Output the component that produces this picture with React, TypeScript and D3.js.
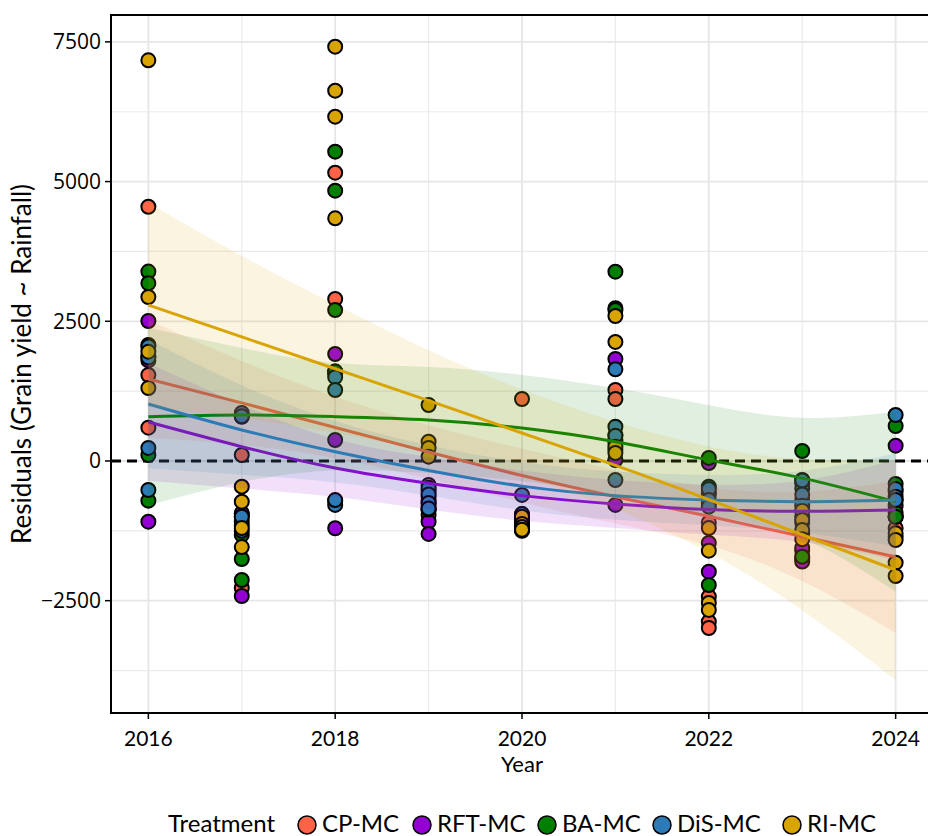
import React from "react";
import * as d3 from "d3";

const years = [2016, 2017, 2018, 2019, 2020, 2021, 2022, 2023, 2024];
const treatments = ["CP-MC", "RFT-MC", "BA-MC", "DiS-MC", "RI-MC"];
const treatmentColors = ["#FF6347", "#9400D3", "#007F00", "#2C7BB6", "#D9A300"];

// residual points per year (one row per year, 2016..2024)
const cpPoints = [
  [4550, 2076, 1539, 596], [107, -950, -1150, -2273], [5160, 2899, 1600, -710],
  [-430, -700, -880, -966], [1109, -1050, -1150, -1230], [1270, 1109, 376, 200],
  [-1100, -2428, -2875, -2989], [-700, -1300, -1600, -1750], [-700, -1000, -1204, -1350],
];
const rftPoints = [
  [2505, 1866, 1800, -1086], [790, -934, -1000, -2416], [1915, 1560, 376, -1204],
  [-519, -640, -1086, -1306], [-950, -1000, -1100, -1200], [1825, 465, 18, -787],
  [-36, -600, -1467, -1981], [-400, -1000, -1557, -1800], [274, -550, -800, -1000],
];
const baPoints = [
  [3390, 3180, 107, -710], [-1086, -1324, -1754, -2130], [5535, 4837, 2702, 1600],
  [-818, -560, -750, -870], [-1000, -1150, -1200, -1250], [3388, 2733, 2700, 330],
  [54, -573, -750, -2219], [179, -340, -489, -1713], [626, -411, -925, -1000],
];
const disPoints = [
  [2050, 1850, 233, -519], [860, 800, -1000, -1250], [1500, 1270, -787, -700],
  [-480, -600, -750, -850], [-608, -950, -1050, -1200], [1641, 614, 450, -340],
  [-459, -500, -698, -818], [-350, -600, -800, -1100], [823, -500, -640, -700],
];
const riPoints = [
  [7170, 2935, 1956, 1306], [-459, -728, -1200, -1540], [7414, 6627, 6161, 4343],
  [1002, 345, 233, 77], [-1000, -1127, -1180, -1230], [2595, 2130, 256, 143],
  [-1200, -1605, -2541, -2666], [-890, -1056, -1235, -1400], [-1294, -1414, -1820, -2058],
];

// smoothed fits and confidence half-widths, 2016..2024
const cpFit = [1467, 1040, 600, 160, -260, -640, -990, -1350, -1718];
const cpHalf = [1050, 750, 550, 480, 480, 480, 520, 800, 1360];
const rftFit = [698, 256, -125, -400, -620, -770, -870, -900, -877];
const rftHalf = [1050, 750, 520, 470, 450, 430, 450, 550, 900];
const baFit = [793, 823, 793, 733, 590, 345, 18, -307, -728];
const baHalf = [1590, 1200, 960, 950, 950, 960, 980, 1080, 1610];
const disFit = [1020, 555, 166, -170, -450, -620, -698, -728, -698];
const disHalf = [1150, 800, 550, 450, 430, 430, 450, 550, 830];
const riFit = [2790, 2220, 1650, 1080, 500, -80, -690, -1320, -1950];
const riHalf = [1830, 1450, 1150, 900, 780, 780, 950, 1350, 1970];

const xTicks = [2016, 2018, 2020, 2022, 2024];
const xMinor = [2017, 2019, 2021, 2023];
const yTicks = [-2500, 0, 2500, 5000, 7500];
const yMinor = [-3750, -1250, 1250, 3750, 6250];

const allPoints = [cpPoints, rftPoints, baPoints, disPoints, riPoints];
const allFits = [cpFit, rftFit, baFit, disFit, riFit];
const allHalves = [cpHalf, rftHalf, baHalf, disHalf, riHalf];

const W = 928;
const H = 836;
const panel = { left: 111, right: 933, top: 15, bottom: 713 };

export default function App() {
  const x = d3.scaleLinear().domain([2015.6, 2024.4]).range([panel.left, panel.right]);
  const y = d3.scaleLinear().domain([-4510, 7981]).range([panel.bottom, panel.top]);

  const line = d3
    .line<number>()
    .x((_, i) => x(years[i]))
    .y((d) => y(d))
    .curve(d3.curveNatural);

  const area = (fit: number[], half: number[]) =>
    d3
      .area<number>()
      .x((_, i) => x(years[i]))
      .y0((d, i) => y(d - half[i]))
      .y1((d, i) => y(d + half[i]))
      .curve(d3.curveNatural)(fit) || "";

  const pts: { x: number; y: number; c: string }[] = [];
  years.forEach((yr, yi) => {
    allPoints.forEach((series, ti) => {
      series[yi].forEach((v) => pts.push({ x: x(yr), y: y(v), c: treatmentColors[ti] }));
    });
  });

  const legendKeys = [307, 422, 547, 662, 792];

  return (
    <svg width={W} height={H} style={{ position: "absolute", left: 0, top: 0, background: "#fff" }}>
      <rect x={0} y={0} width={W} height={H} fill="#fff" />
      <defs>
        <clipPath id="panelClip">
          <rect x={panel.left} y={panel.top} width={panel.right - panel.left} height={panel.bottom - panel.top} />
        </clipPath>
      </defs>
      <g clipPath="url(#panelClip)">
        {xMinor.map((t) => (
          <line key={"xm" + t} x1={x(t)} x2={x(t)} y1={panel.top} y2={panel.bottom} stroke="#EBEBEB" strokeWidth={1.2} />
        ))}
        {yMinor.map((t) => (
          <line key={"ym" + t} x1={panel.left} x2={panel.right} y1={y(t)} y2={y(t)} stroke="#EBEBEB" strokeWidth={1.2} />
        ))}
        {xTicks.map((t) => (
          <line key={"xg" + t} x1={x(t)} x2={x(t)} y1={panel.top} y2={panel.bottom} stroke="#E6E6E6" strokeWidth={1.8} />
        ))}
        {yTicks.map((t) => (
          <line key={"yg" + t} x1={panel.left} x2={panel.right} y1={y(t)} y2={y(t)} stroke="#E6E6E6" strokeWidth={1.8} />
        ))}
        <line x1={panel.left} x2={panel.right} y1={y(0)} y2={y(0)} stroke="#000" strokeWidth={3} strokeDasharray="10 6" />
        {pts.map((p, i) => (
          <circle key={i} cx={p.x} cy={p.y} r={7} fill={p.c} stroke="#000" strokeWidth={2} />
        ))}
        {treatments.map((t, ti) => (
          <g key={t}>
            <path d={area(allFits[ti], allHalves[ti])} fill={treatmentColors[ti]} fillOpacity={0.12} />
            <path d={line(allFits[ti]) || ""} fill="none" stroke={treatmentColors[ti]} strokeWidth={3} />
          </g>
        ))}
      </g>
      <rect x={panel.left} y={panel.top} width={panel.right - panel.left} height={panel.bottom - panel.top} fill="none" stroke="#000" strokeWidth={2} />
      {yTicks.map((t) => (
        <g key={"yt" + t}>
          <line x1={panel.left - 6} x2={panel.left} y1={y(t)} y2={y(t)} stroke="#000" strokeWidth={1.5} />
          <text x={panel.left - 10} y={y(t)} dy="0.35em" textAnchor="end" fontFamily="'Open Sans'" fontSize={21} fill="#000">
            {t < 0 ? "\u2212" + Math.abs(t) : String(t)}
          </text>
        </g>
      ))}
      {xTicks.map((t) => (
        <g key={"xt" + t}>
          <line x1={x(t)} x2={x(t)} y1={panel.bottom} y2={panel.bottom + 6} stroke="#000" strokeWidth={1.5} />
          <text x={x(t)} y={panel.bottom + 33} textAnchor="middle" fontFamily="Lato" fontSize={21} fill="#000">
            {t}
          </text>
        </g>
      ))}
      <text x={522} y={772} textAnchor="middle" fontFamily="Lato" fontSize={22} fill="#000">
        Year
      </text>
      <text transform={`translate(31,${(panel.top + panel.bottom) / 2}) rotate(-90)`} textAnchor="middle" fontFamily="Lato" fontSize={26} fill="#000">
        Residuals (Grain yield ~ Rainfall)
      </text>
      <text x={168} y={832} fontFamily="Lato" fontSize={24} fill="#000">
        Treatment
      </text>
      {treatments.map((t, ti) => (
        <g key={"lg" + t}>
          <circle cx={legendKeys[ti]} cy={825} r={9} fill={treatmentColors[ti]} stroke="#000" strokeWidth={1.5} />
          <text x={legendKeys[ti] + 15} y={832} fontFamily="Lato" fontSize={24} fill="#000">
            {t}
          </text>
        </g>
      ))}
    </svg>
  );
}
